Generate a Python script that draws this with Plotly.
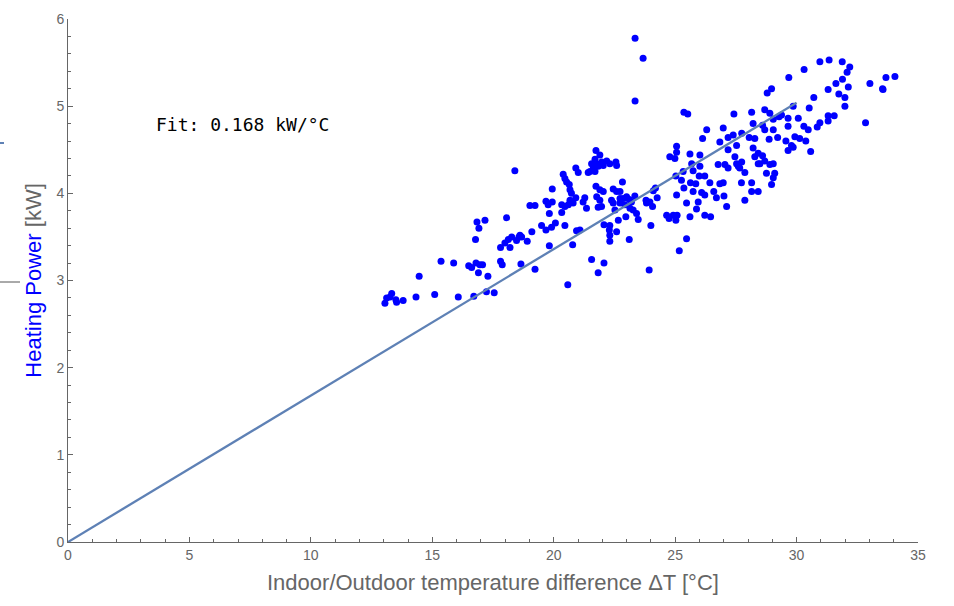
import plotly.graph_objects as go

# Measured points: indoor/outdoor temperature difference (°C) and heating power (kW)
points = [
    (13.05,2.74),(13.12,2.80),(13.33,2.85),(13.26,2.81),(13.5,2.78),(13.53,2.75),(13.8,2.77),
    (14.33,2.81),(14.46,3.05),(15.1,2.84),(15.36,3.22),(15.88,3.2),(16.07,2.81),
    (16.5,3.17),(16.62,3.15),(16.8,3.2),(16.96,3.18),(17.07,3.18),(16.9,3.09),(16.78,3.47),
    (16.84,3.67),(16.92,3.6),(17.17,3.69),(17.29,3.05),(16.71,2.82),(17.23,2.87),(17.55,2.86),
    (17.81,3.22),(17.88,3.18),(17.81,3.38),(18.06,3.72),(17.99,3.43),(18.13,3.47),(18.27,3.5),(18.2,3.38),
    (18.47,3.46),(18.57,3.5),(18.68,3.5),(18.61,3.52),(18.91,3.45),(18.65,3.19),(19.1,3.56),(19.23,3.13),
    (18.4,4.26),(19.02,3.86),(19.23,3.86),(19.5,3.63),(19.68,3.58),(19.82,3.4),(19.68,3.91),(19.77,3.87),
    (19.94,3.9),(19.82,3.77),(19.94,4.05),(19.91,3.61),(20.07,3.66),(20.33,3.78),(20.46,3.63),(20.58,2.95),
    (20.78,3.41),(20.39,4.22),(20.46,4.17),(20.53,4.13),(20.64,4.1),(20.67,4.04),(20.73,4.0),(20.91,3.95),
    (20.33,3.87),(20.46,3.85),(20.6,3.87),(20.73,3.9),(20.8,3.89),(20.67,3.92),
    (20.91,4.29),(21.01,4.24),(20.94,3.57),
    (21.74,4.49),(21.9,4.44),(21.7,4.39),(21.56,4.34),(21.77,4.34),(21.98,4.36),(22.18,4.37),(22.31,4.34),
    (22.56,4.36),(22.59,4.32),(21.63,4.29),(21.49,4.25),(21.42,4.24),(21.7,4.25),(21.83,4.31),(22.04,4.32),
    (21.28,3.95),(21.21,3.9),(21.35,3.83),(21.74,4.08),(21.9,4.04),(22.04,4.02),(21.77,3.96),(21.9,3.92),
    (21.83,3.84),(21.97,3.85),(22.45,4.05),(22.59,4.02),(22.73,4.02),(22.83,4.13),(22.38,3.92),(22.45,3.89),
    (22.73,3.94),(22.86,3.94),(23.0,3.96),(23.11,3.93),(23.2,3.9),(23.34,3.97),(22.73,3.89),(22.93,3.87),
    (22.52,3.81),(23.14,3.83),(23.27,3.81),(23.41,3.77),(23.48,3.7),(22.97,3.73),(22.66,3.69),(22.31,3.63),
    (22.07,3.64),(22.29,3.58),(22.59,3.56),(22.31,3.52),(22.31,3.45),(23.11,3.47),(21.08,3.58),(21.56,3.24),
    (22.07,3.2),(23.93,3.12),(23.8,3.92),(23.96,3.9),(23.82,3.89),(24.07,3.85),(24.26,3.95),(24.1,4.03),
    (24.19,4.06),(24.0,3.63),(21.83,3.09),
    (24.78,4.42),(24.99,4.4),(25.06,4.54),(25.06,4.47),(25.61,4.45),(26.02,4.44),(26.3,4.73),(26.13,4.63),
    (26.98,4.75),(26.84,4.59),(27.18,4.64),(27.39,4.67),(27.53,4.55),(27.74,4.69),(28.21,4.8),(28.28,4.63),
    (27.18,4.5),(27.46,4.42),(27.74,4.36),(27.6,4.31),(27.87,4.24),(28.21,4.52),(28.42,4.46),(28.42,4.34),
    (28.28,4.42),
    (25.03,4.2),(25.26,4.15),(25.33,4.25),(25.36,4.06),(25.68,4.34),(25.74,4.26),(25.63,4.12),(25.85,4.11),
    (25.74,4.02),(26.02,4.31),(25.99,4.2),(26.22,4.2),(26.09,4.01),(26.22,3.98),(26.43,4.12),(26.59,4.02),
    (26.7,3.95),(26.84,4.11),(26.98,4.12),(27.01,3.97),(27.12,3.85),(26.77,4.33),(27.05,4.33),(27.18,4.29),
    (27.53,4.34),(27.66,4.29),(27.73,4.12),(27.87,3.92),(28.15,4.12),(28.15,4.02),(28.42,4.02),(25.06,3.98),
    (24.65,3.75),(24.75,3.71),(24.92,3.75),(25.08,3.75),(25.03,3.69),(25.61,3.73),(25.88,3.82),(25.95,3.9),
    (26.22,3.75),(26.46,3.73),(25.47,3.48),(25.17,3.34),(25.47,3.89),(28.97,4.1),
    (30.96,5.51),(31.34,5.53),(31.88,5.51),(32.19,5.45),(32.08,5.39),(30.31,5.42),(29.68,5.33),(28.97,5.2),
    (28.79,5.15),(31.89,5.31),(31.62,5.26),(32.13,5.22),(31.3,5.19),(31.74,5.14),(31.99,5.1),(30.71,5.1),
    (30.52,4.98),(31.99,5.0),(33.02,5.26),(33.68,5.33),(34.05,5.34),(33.54,5.2),(33.56,5.19),(32.84,4.81),
    (28.15,4.93),(28.69,4.96),(28.9,4.92),(29.04,4.85),(29.28,4.88),(29.38,4.9),(29.86,5.0),(29.65,4.86),
    (30.07,4.86),(28.6,4.78),(28.69,4.73),(29.04,4.73),(29.65,4.77),(30.3,4.77),(30.48,4.73),(30.96,4.81),
    (30.85,4.76),(31.3,4.89),(31.3,4.83),(31.55,4.89),(28.05,4.64),(28.87,4.62),(29.22,4.64),(29.56,4.6),
    (29.93,4.65),(30.13,4.63),(30.38,4.6),(29.79,4.55),(29.86,4.53),(29.65,4.49),(30.58,4.48),(28.6,4.43),
    (28.49,4.34),(28.69,4.37),(29.04,4.34),(28.9,4.33),(28.76,4.23),(29.1,4.23),(29.04,4.18),
    (23.35,5.78),(23.68,5.55),(23.35,5.06),(25.36,4.93),(25.52,4.91),(27.42,4.91),
]
delta_t = [p[0] for p in points]
power = [p[1] for p in points]

fit_slope = 0.168          # kW/°C
fit_x = [0, 30]
fit_y = [fit_slope * v for v in fit_x]

x_ticks = [0, 5, 10, 15, 20, 25, 30, 35]
y_ticks = [0, 1, 2, 3, 4, 5, 6]

axis_gray = "#666666"
label_gray = "#666666"

fig = go.Figure()
fig.add_trace(go.Scatter(x=delta_t, y=power, mode="markers",
                         marker=dict(color="#0000FF", size=7, line=dict(width=0)),
                         showlegend=False, cliponaxis=False))
fig.add_trace(go.Scatter(x=fit_x, y=fit_y, mode="lines",
                         line=dict(color="#5E81B5", width=2.3), showlegend=False))

fig.update_layout(
    width=954, height=606,
    margin=dict(l=68, r=36, t=19, b=64),
    paper_bgcolor="white", plot_bgcolor="white",
    font=dict(family="Liberation Sans, Arial, sans-serif", color=label_gray, size=14),
    xaxis=dict(range=[0, 35], tickvals=x_ticks, showgrid=False, zeroline=False,
               showline=True, linecolor=axis_gray, linewidth=1,
               ticks="inside", ticklen=5, tickcolor=axis_gray, tickwidth=1,
               minor=dict(dtick=1, ticks="inside", ticklen=3, tickcolor=axis_gray),
               tickfont=dict(size=14, color=label_gray)),
    yaxis=dict(range=[0, 6], tickvals=y_ticks, showgrid=False, zeroline=False,
               showline=True, linecolor=axis_gray, linewidth=1,
               ticks="inside", ticklen=5, tickcolor=axis_gray, tickwidth=1,
               minor=dict(dtick=0.2, ticks="inside", ticklen=3, tickcolor=axis_gray),
               tickfont=dict(size=14, color=label_gray)),
)

fig.add_annotation(text="Indoor/Outdoor temperature difference ΔT [°C]",
                   xref="paper", yref="paper", x=0.5, y=-0.0765,
                   xanchor="center", yanchor="middle", showarrow=False,
                   font=dict(size=22, color=label_gray))
fig.add_annotation(text="<span style='color:#0000FF'>Heating Power</span> [kW]",
                   xref="paper", yref="paper", x=-0.041, y=0.5,
                   xanchor="center", yanchor="middle", textangle=-90, showarrow=False,
                   font=dict(size=22, color=label_gray))
fig.add_annotation(text="Fit: 0.168 kW/°C",
                   xref="paper", yref="paper", x=(154 - 68) / 850, y=(542 - 124) / 523,
                   xanchor="left", yanchor="middle", showarrow=False,
                   font=dict(family="DejaVu Sans Mono, monospace", size=18, color="black"))

# small stray marks at the left edge of the original image
fig.add_shape(type="line", xref="paper", yref="paper",
              x0=-68 / 850, x1=-64 / 850, y0=(542 - 143) / 523, y1=(542 - 143) / 523,
              line=dict(color="#5E81B5", width=2))
fig.add_shape(type="line", xref="paper", yref="paper",
              x0=-68 / 850, x1=-48 / 850, y0=(542 - 282) / 523, y1=(542 - 282) / 523,
              line=dict(color="#555555", width=1))

fig.write_html("out.html")
